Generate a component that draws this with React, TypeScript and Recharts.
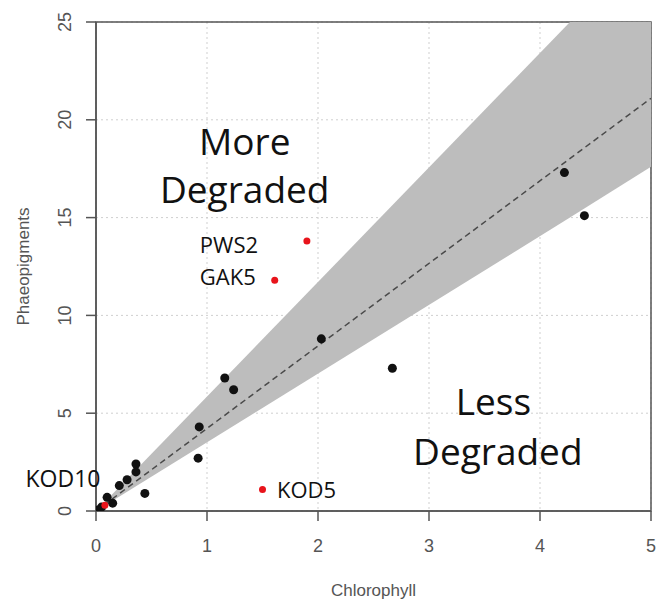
import React from "react"
import {
  ComposedChart,
  Area,
  Line,
  Scatter,
  XAxis,
  YAxis,
  CartesianGrid,
  ReferenceArea,
  ReferenceDot,
} from "recharts"

// samples (chlorophyll vs phaeopigments)
const chlBlack = [4.22, 4.4, 2.03, 2.67, 1.16, 1.24, 0.93, 0.92, 0.36, 0.36, 0.28, 0.21, 0.44, 0.1, 0.15, 0.05, 0.02]
const phaeoBlack = [17.3, 15.1, 8.8, 7.3, 6.8, 6.2, 4.3, 2.7, 2.4, 2.0, 1.6, 1.3, 0.9, 0.7, 0.4, 0.2, 0.05]

const redNames = ["PWS2", "GAK5", "KOD5", "KOD10"]
const chlRed = [1.9, 1.61, 1.5, 0.08]
const phaeoRed = [13.8, 11.8, 1.1, 0.3]

// fitted line and confidence band
const bandX = [0, 4.27, 5]
const bandLow = [0, 15.0, 17.6]
const bandHigh = [0, 25, 25]
const fitY = [0, null, 21.1]

const xTicks = [0, 1, 2, 3, 4, 5]
const yTicks = [0, 5, 10, 15, 20, 25]

const blackPts = chlBlack.map((x, i) => ({ x, y: phaeoBlack[i] }))
const redPts = chlRed.map((x, i) => ({ x, y: phaeoRed[i], name: redNames[i] }))
const lineData = bandX.map((x, i) => ({ x, band: [bandLow[i], bandHigh[i]], fit: fitY[i] }))

const AXIS = "#555555"
const FONT = "'Liberation Sans', Arial, sans-serif"
const NOTE_FONT = "'Open Sans', sans-serif"

const XTick = (props: any) => {
  const { x, y, payload } = props
  return (
    <text x={x} y={y + 31} textAnchor="middle" fontSize={18} fill={AXIS} fontFamily={FONT}>
      {payload.value}
    </text>
  )
}

const YTick = (props: any) => {
  const { y, payload } = props
  return (
    <text
      x={65}
      y={y}
      transform={`rotate(-90, 65, ${y})`}
      textAnchor="middle"
      dominantBaseline="central"
      fontSize={18}
      fill={AXIS}
      fontFamily={FONT}
    >
      {payload.value}
    </text>
  )
}

const XTitle = (props: any) => {
  const { viewBox } = props
  return (
    <text x={viewBox.x + viewBox.width / 2} y={viewBox.y + 85} textAnchor="middle" fontSize={17} fill={AXIS} fontFamily={FONT}>
      Chlorophyll
    </text>
  )
}

const YTitle = (props: any) => {
  const { viewBox } = props
  const cy = viewBox.y + viewBox.height / 2
  return (
    <text
      x={23}
      y={cy}
      transform={`rotate(-90, 23, ${cy})`}
      textAnchor="middle"
      dominantBaseline="central"
      fontSize={17}
      fill={AXIS}
      fontFamily={FONT}
    >
      Phaeopigments
    </text>
  )
}

// y of each note is its text baseline
const note = (text: string, anchor: "start" | "middle" | "end", size: number) => (props: any) => {
  const { viewBox } = props
  const cx = viewBox.x + viewBox.width / 2
  const cy = viewBox.y + viewBox.height / 2
  return (
    <text x={cx} y={cy} textAnchor={anchor} fontSize={size} fill="#111" fontFamily={NOTE_FONT}>
      {text}
    </text>
  )
}

const notes = [
  { x: 1.34, y: 18.2, text: "More", anchor: "middle", size: 37 },
  { x: 1.34, y: 15.75, text: "Degraded", anchor: "middle", size: 37 },
  { x: 3.58, y: 4.91, text: "Less", anchor: "middle", size: 37 },
  { x: 3.62, y: 2.35, text: "Degraded", anchor: "middle", size: 37 },
  { x: 1.46, y: 13.19, text: "PWS2", anchor: "end", size: 22 },
  { x: 1.44, y: 11.55, text: "GAK5", anchor: "end", size: 22 },
  { x: 1.63, y: 0.66, text: "KOD5", anchor: "start", size: 22 },
  { x: 0.04, y: 1.23, text: "KOD10", anchor: "end", size: 23 },
] as const

export default function App() {
  return (
    <div style={{ position: "absolute", left: 0, top: 0, width: 656, height: 600, background: "#fff" }}>
      <ComposedChart
        width={656}
        height={600}
        data={lineData}
        margin={{ top: 22, right: 5, bottom: 29, left: 0 }}
      >
        <CartesianGrid stroke="#cfcfcf" strokeDasharray="2 3" />
        <XAxis
          dataKey="x"
          type="number"
          domain={[0, 5]}
          ticks={xTicks}
          allowDataOverflow
          height={60}
          stroke={AXIS}
          strokeWidth={1.5}
          tickSize={10}
          tickMargin={0}
          tick={<XTick />}
          label={{ content: <XTitle /> }}
        />
        <YAxis
          type="number"
          domain={[0, 25]}
          ticks={yTicks}
          allowDataOverflow
          width={96}
          stroke={AXIS}
          strokeWidth={1.5}
          tickSize={10}
          tickMargin={0}
          tick={<YTick />}
          label={{ content: <YTitle /> }}
        />
        <ReferenceArea x1={0} x2={5} y1={0} y2={25} fill="none" stroke={AXIS} strokeWidth={1.5} />
        <Area
          dataKey="band"
          type="linear"
          fill="#bdbdbd"
          fillOpacity={1}
          stroke="none"
          isAnimationActive={false}
        />
        <Line
          dataKey="fit"
          type="linear"
          stroke="#4a4a4a"
          strokeWidth={1.5}
          strokeDasharray="6 4"
          dot={false}
          connectNulls
          isAnimationActive={false}
        />
        <Scatter data={blackPts} dataKey="y" fill="#111" shape={(p: any) => <circle cx={p.cx} cy={p.cy} r={4.5} fill="#111" />} isAnimationActive={false} />
        <Scatter data={redPts} dataKey="y" fill="#e8141b" shape={(p: any) => <circle cx={p.cx} cy={p.cy} r={3.5} fill="#e8141b" />} isAnimationActive={false} />
        {notes.map((n) => (
          <ReferenceDot
            key={n.text + n.y}
            x={n.x}
            y={n.y}
            r={0}
            fill="none"
            stroke="none"
            ifOverflow="visible"
            label={{ content: note(n.text, n.anchor, n.size) }}
          />
        ))}
      </ComposedChart>
    </div>
  )
}
